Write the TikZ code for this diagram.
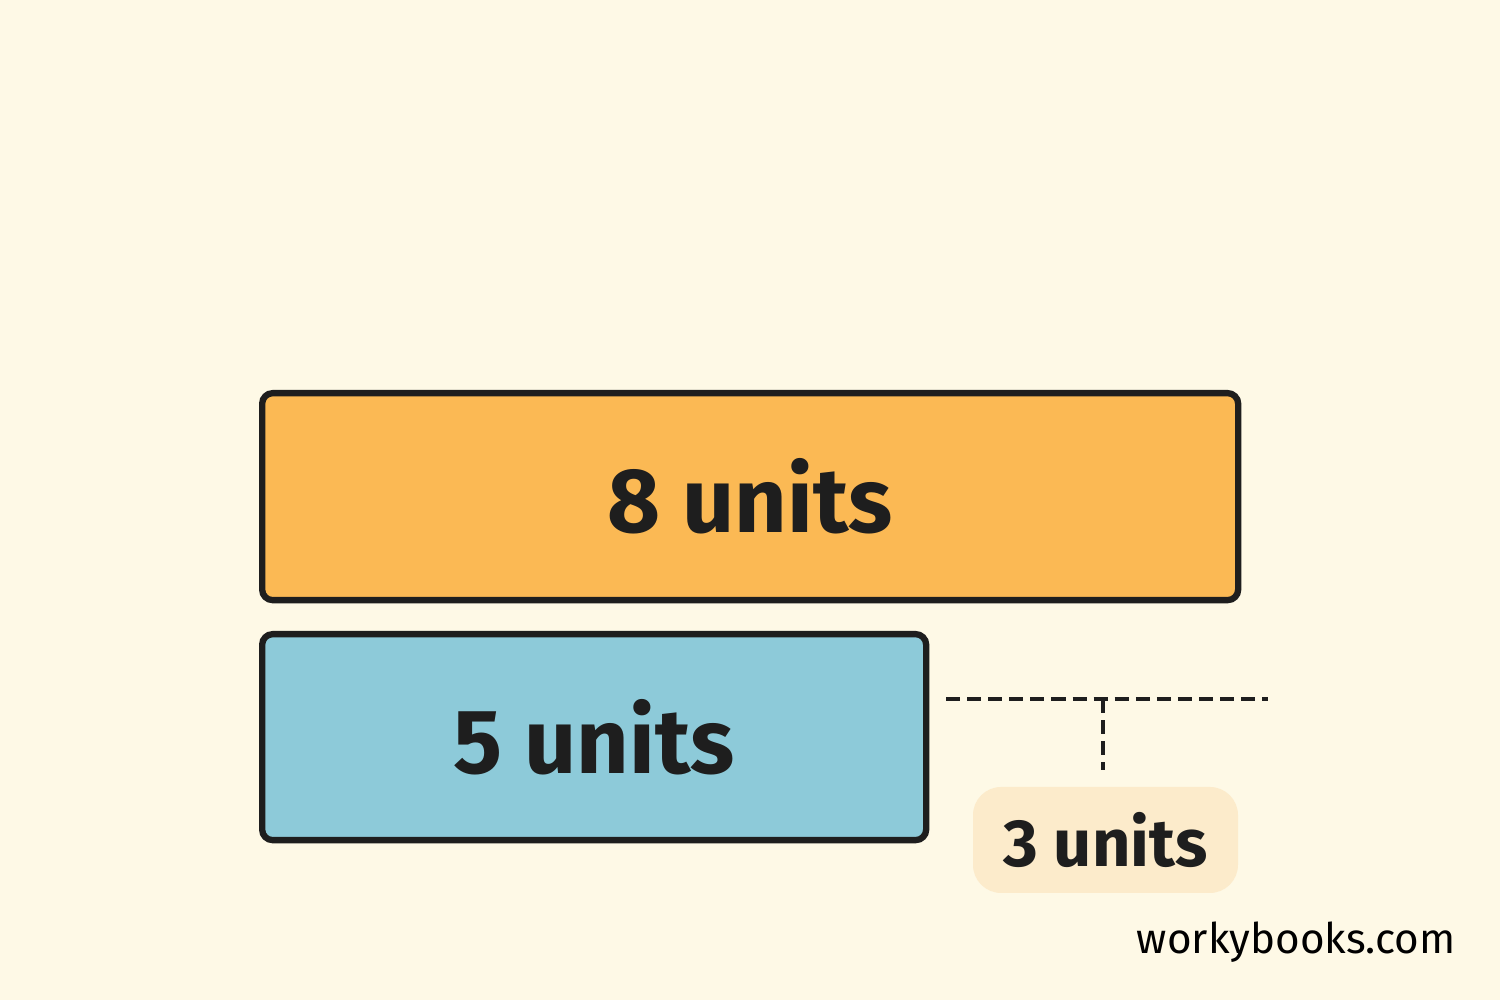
\documentclass[tikz,border=0pt]{standalone}
\usepackage{fontspec}
\setmainfont{Fira Sans}
\usetikzlibrary{positioning}
\definecolor{paper}{HTML}{FEF9E6}
\definecolor{barorange}{HTML}{FBB954}
\definecolor{barblue}{HTML}{8DCAD9}
\definecolor{tagpeach}{HTML}{FCEBCB}
\definecolor{ink}{HTML}{1E1E1E}
\tikzset{
  bar/.style={draw=ink, line width=1.8pt, rounded corners=3pt, font=\fontsize{26}{30}\selectfont\bfseries, text=ink},
  gap/.style={draw=ink, line width=1.1pt, dash pattern=on 4pt off 2pt},
}
\begin{document}
\begin{tikzpicture}
    \fill[paper] (0,0) rectangle (15,10);
    \useasboundingbox (0,0) rectangle (15,10);
    %the two bars
    \node[bar, fill=barorange, minimum width=9.76cm, minimum height=2.07cm, anchor=north west] (whole) at (2.59,6.10) {8 units};
    \node[bar, fill=barblue, minimum width=6.64cm, minimum height=2.06cm, anchor=north west] (part) at (2.59,3.69) {5 units};
    %difference marker
    \coordinate (gapL) at (9.46,3.01);
    \coordinate (gapR) at (12.68,3.01);
    \coordinate (gapM) at (11.03,3.01);
    \coordinate (gapD) at (11.03,2.30);
    \draw[gap] (gapL) -- (gapR);
    \draw[gap] (gapM) -- (gapD);
    \node[fill=tagpeach, rounded corners=8pt, minimum width=2.65cm, minimum height=1.06cm, font=\fontsize{19}{23}\selectfont\bfseries, text=ink] (diff) at (11.055,1.60) {3 units};
    \node[anchor=east, font=\fontsize{12}{14}\selectfont, text=black] (brand) at (14.68,0.58) {workybooks.com};
\end{tikzpicture}
\end{document}
